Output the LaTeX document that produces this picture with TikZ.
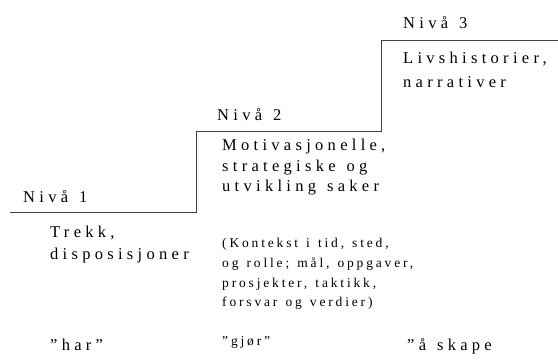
\documentclass[tikz,border=0pt]{standalone}
\usepackage{fontspec}
\setmainfont{Liberation Serif}
\newfontfamily\spaced[LetterSpace=26, WordSpace=1.3]{Liberation Serif}
\newfontfamily\spacedsmall[LetterSpace=21, WordSpace=1.3]{Liberation Serif}

\tikzset{
  lvl/.style={anchor=base west, inner sep=0pt, font=\spaced\fontsize{16.5}{20}\selectfont},
  note/.style={anchor=base west, inner sep=0pt, font=\spacedsmall\fontsize{13.5}{16}\selectfont},
  stair/.style={draw=black!75, line width=1pt}
}

\begin{document}
\begin{tikzpicture}[x=1pt, y=-1pt]
  \useasboundingbox (0,0) rectangle (558,360);

  % the three steps
  \coordinate (s0) at (10,212);
  \coordinate (s1) at (196,212);
  \coordinate (s2) at (196,131);
  \coordinate (s3) at (381,131);
  \coordinate (s4) at (381,40);
  \coordinate (s5) at (558,40);
  \draw[stair] (s0) -- (s1) -- (s2) -- (s3) -- (s4) -- (s5);

  % level 1
  \node[lvl] (n1)  at (23,202) {Nivå 1};
  \node[lvl] (t1a) at (50,237) {Trekk,};
  \node[lvl] (t1b) at (50,259) {disposisjoner};

  % level 2
  \node[lvl] (n2)  at (217,120) {Nivå 2};
  \node[lvl] (t2a) at (222,150) {Motivasjonelle,};
  \node[lvl] (t2b) at (222,171) {strategiske og};
  \node[lvl] (t2c) at (222,191) {utvikling saker};
  \node[note] (c2a) at (222,247) {(Kontekst i tid, sted,};
  \node[note] (c2b) at (222,267) {og rolle; mål, oppgaver,};
  \node[note] (c2c) at (222,287) {prosjekter, taktikk,};
  \node[note] (c2d) at (222,306) {forsvar og verdier)};

  % level 3
  \node[lvl] (n3)  at (403,28) {Nivå 3};
  \node[lvl] (t3a) at (403,63) {Livshistorier,};
  \node[lvl] (t3b) at (403,87) {narrativer};

  % verbs
  \node[lvl]  (v1) at (50,350)  {”har”};
  \node[note] (v2) at (222,345) {”gjør”};
  \node[lvl]  (v3) at (407,350) {”å skape};
\end{tikzpicture}
\end{document}
